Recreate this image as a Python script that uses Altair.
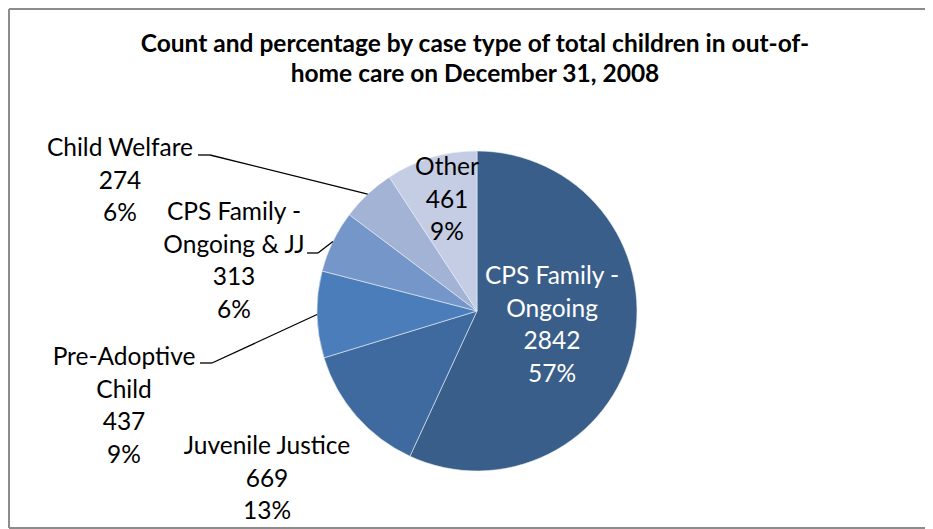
import altair as alt
import pandas as pd
import numpy as np

# ---- data ----
categories = ["CPS Family - Ongoing", "Juvenile Justice", "Pre-Adoptive Child",
              "CPS Family - Ongoing & JJ", "Child Welfare", "Other"]
counts = [2842, 669, 437, 313, 274, 461]
percents = ["57%", "13%", "9%", "6%", "6%", "9%"]
colors = ["#3A5E8A", "#3F6A9F", "#4A7DB9", "#7496C9", "#A2B3D5", "#C4CDE3"]
label_lines = [["CPS Family -", "Ongoing"], ["Juvenile Justice"], ["Pre-Adoptive", "Child"],
               ["CPS Family -", "Ongoing & JJ"], ["Child Welfare"], ["Other"]]
title_lines = ["Count and percentage by case type of total children in out-of-",
               "home care on December 31, 2008"]

df = pd.DataFrame({"category": categories, "count": counts, "order": list(range(len(categories)))})

# ---- layout (chart pixel coords; page = chart + 8) ----
W, H = 917, 521
CX, CY, R = 469, 303, 160
FONT = "Lato"
FS = 24.5
LH = 32.5

pie = alt.Chart(df).mark_arc(outerRadius=R, stroke="#E8EEF7", strokeWidth=0.6).encode(
    theta=alt.Theta("count:Q", stack=True),
    order=alt.Order("order:Q"),
    color=alt.Color("category:N", scale=alt.Scale(domain=categories, range=colors), legend=None),
    x=alt.value(CX), y=alt.value(CY),
)

# label anchors: center x, first-line center y, text colour
label_pos = {
    "CPS Family - Ongoing": (544, 269, "white"),
    "Juvenile Justice": (259, 439, "black"),
    "Pre-Adoptive Child": (116, 350, "black"),
    "CPS Family - Ongoing & JJ": (226, 205, "black"),
    "Child Welfare": (112, 141, "black"),
    "Other": (439, 160, "black"),
}

layers = []
for cat, cnt, pct, lines in zip(categories, counts, percents, label_lines):
    x0, y0, col = label_pos[cat]
    txt = lines + [str(cnt), pct]
    ldf = pd.DataFrame({"t": txt, "i": list(range(len(txt)))})
    ldf["y"] = y0 + ldf["i"] * LH
    layers.append(
        alt.Chart(ldf).mark_text(font=FONT, fontSize=FS, color=col, align="center", baseline="middle").encode(
            text="t:N", x=alt.value(x0), y=alt.Y("y:Q", scale=None)
        )
    )

# leader lines: end point at slice mid-angle on the pie edge
total = sum(counts)
cum = np.cumsum([0] + counts[:-1])
mid = {c: (cum[i] + counts[i] / 2) / total * 2 * np.pi for i, c in enumerate(categories)}
leader_start = {
    "Child Welfare": [(190, 147), (202, 147)],
    "CPS Family - Ongoing & JJ": [(299, 245), (310, 245)],
    "Pre-Adoptive Child": [(192, 355), (204, 355)],
}
segs = []
for cat, pts in leader_start.items():
    a = mid[cat]
    end = (CX + R * np.sin(a), CY - R * np.cos(a))
    p = pts + [end]
    for j in range(len(p) - 1):
        segs.append({"x": p[j][0], "y": p[j][1], "x2": p[j + 1][0], "y2": p[j + 1][1]})
sdf = pd.DataFrame(segs)
leaders = alt.Chart(sdf).mark_rule(color="black", strokeWidth=1.3).encode(
    x=alt.X("x:Q", scale=None), y=alt.Y("y:Q", scale=None),
    x2="x2:Q", y2="y2:Q",
)

tdf = pd.DataFrame({"t": title_lines, "i": [0, 1]})
tdf["y"] = 37 + tdf["i"] * 30
title = alt.Chart(tdf).mark_text(font=FONT, fontSize=24.5, fontWeight="bold", color="black",
                                 align="center", baseline="middle").encode(
    text="t:N", x=alt.value(467), y=alt.Y("y:Q", scale=None)
)

# frame: left, top, bottom edges
bdf = pd.DataFrame({"x": [1, 1, 1], "y": [1, 1, H - 1], "x2": [1, W, W], "y2": [H - 1, 1, H - 1]})
border = alt.Chart(bdf).mark_rule(color="#8C8C8C", strokeWidth=2).encode(
    x=alt.X("x:Q", scale=None), y=alt.Y("y:Q", scale=None), x2="x2:Q", y2="y2:Q"
)

chart = alt.layer(border, pie, leaders, title, *layers).properties(
    width=W, height=H, padding=0, background="white", autosize=alt.AutoSizeParams(type="none")
).configure_view(stroke="transparent", strokeWidth=0)

chart.save("out.html", embed_options={"renderer": "svg", "actions": False})
